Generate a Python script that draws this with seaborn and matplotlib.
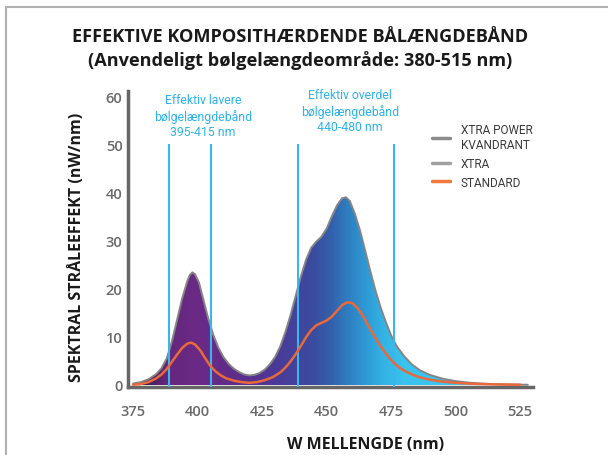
import numpy as np
import pandas as pd
import matplotlib.pyplot as plt
import seaborn as sns
from matplotlib.colors import LinearSegmentedColormap
from matplotlib.lines import Line2D
from matplotlib.patches import Polygon

# XTRA POWER KVANDRANT (filled area)
power_nm = [375, 378, 381, 384, 386, 388, 390, 392, 394, 396, 397, 398, 399, 400.5, 402,
            404, 406, 408, 410, 412, 414, 416, 418, 420, 422, 424, 426, 428, 430,
            432, 434, 436, 438, 440, 442, 444, 446, 448, 450, 452, 454, 456, 457.5,
            459, 461, 463, 465, 467, 469, 471, 473, 475, 477, 480, 483, 486, 490,
            495, 500, 505, 510, 515, 520, 528]
power_val = [0.3, 0.6, 1.2, 2.3, 3.5, 5.5, 9, 13.5, 18, 21.6, 22.9, 23.4, 23.0, 21.3, 18.2,
             14, 10.5, 7.8, 5.8, 4.4, 3.4, 2.7, 2.2, 2.0, 2.1, 2.5, 3.2, 4.3, 5.8,
             8, 11, 14.5, 18.5, 22.5, 26, 28.5, 29.8, 30.8, 32.5, 35, 37.3, 38.8, 39,
             38.2, 35.5, 32, 27.8, 23.5, 19.5, 16, 13, 10.3, 8.2, 6, 4.3, 3.1, 2.1,
             1.3, 0.8, 0.5, 0.3, 0.18, 0.1, 0.05]

# STANDARD
std_nm = [375, 378, 381, 384, 386, 388, 390, 392, 394, 396, 397.5, 399, 401, 403,
          405, 407, 409, 411, 414, 417, 420, 423, 426, 429, 432, 434, 436, 438,
          440, 442, 444, 446, 448, 450, 452, 454, 456, 458, 460, 462, 464, 466,
          468, 470, 472, 474, 476, 478, 480, 483, 486, 490, 495, 500, 507, 515, 525]
std_val = [0.05, 0.2, 0.6, 1.4, 2.2, 3.3, 4.8, 6.3, 7.7, 8.6, 8.8, 8.4, 7.2, 5.5,
           3.9, 2.8, 2.0, 1.4, 0.9, 0.6, 0.45, 0.6, 1.0, 1.6, 2.6, 3.6, 4.9, 6.4,
           8.1, 9.9, 11.4, 12.4, 12.9, 13.4, 14.2, 15.4, 16.6, 17.2, 17.0, 16.0, 14.4, 12.5,
           10.6, 8.8, 7.2, 5.8, 4.6, 3.7, 3.0, 2.2, 1.6, 1.1, 0.7, 0.45, 0.25, 0.12, 0.05]

band_edges = [389, 405, 439, 476]
x_ticks = [375, 400, 425, 450, 475, 500, 525]
y_ticks = [0, 10, 20, 30, 40, 50, 60]

sns.set_theme(style='white')
plt.rcParams['font.family'] = ['Open Sans', 'DejaVu Sans']

fig = plt.figure(figsize=(6.08, 4.56), dpi=100)
ax = fig.add_axes([128 / 608, 1 - 388.4 / 456, 405 / 608, 296 / 456])
ax.set_xlim(373, 530)
ax.set_ylim(-0.5, 61)

# gradient fill clipped to the curve
grad_stops = [(373, '#150a1c'), (381, '#45205a'), (388, '#65267e'), (400, '#6a2a86'),
              (415, '#5e2d8a'), (425, '#533394'), (435, '#45409b'), (445, '#3a4c9f'),
              (452, '#3361ac'), (458, '#2f7dbf'), (465, '#2e99d4'), (472, '#33b3e5'),
              (480, '#39c3ee'), (530, '#3ec8f0')]
lo, hi = 373, 530
cmap = LinearSegmentedColormap.from_list(
    'band', [((p - lo) / (hi - lo), c) for p, c in grad_stops])
grad = np.linspace(0, 1, 512).reshape(1, -1)
img = ax.imshow(grad, extent=[lo, hi, 0, 45], aspect='auto', cmap=cmap, zorder=1)
poly_pts = [(power_nm[0], 0)] + list(zip(power_nm, power_val)) + [(power_nm[-1], 0)]
clip = Polygon(poly_pts, closed=True, facecolor='none', edgecolor='none')
ax.add_patch(clip)
img.set_clip_path(clip)

df_power = pd.DataFrame({'nm': power_nm, 'val': power_val})
df_std = pd.DataFrame({'nm': std_nm, 'val': std_val})
sns.lineplot(data=df_power, x='nm', y='val', color='#858585', lw=1.4, ax=ax, zorder=2)

ax.vlines(band_edges, -0.5, 50, color='#3cb6ea', lw=1.5, zorder=3)

sns.lineplot(data=df_std, x='nm', y='val', color='#e8693a', lw=1.8, ax=ax, zorder=4)

ax.set_xticks(x_ticks)
ax.set_yticks(y_ticks)
ax.tick_params(axis='x', length=0, pad=12, labelsize=10.5, labelcolor='#6a6a6a')
ax.tick_params(axis='y', length=0, pad=4, labelsize=10.5, labelcolor='#6a6a6a')
for t in ax.get_xticklabels() + ax.get_yticklabels():
    t.set_fontweight('semibold')

for s in ['top', 'right']:
    ax.spines[s].set_visible(False)
for s in ['left', 'bottom']:
    ax.spines[s].set_color('#666666')
    ax.spines[s].set_linewidth(2.5)

ax.set_xlabel('W MELLENGDE (nm)', fontsize=11.5, fontweight='bold', color='#1a1a1a')
ax.xaxis.set_label_coords((366 - 128) / 405, -49 / 296)
ax.set_ylabel('SPEKTRAL STRÅLEEFFEKT (nW/nm)', fontsize=11.5, fontweight='bold',
              color='#1a1a1a')
ax.yaxis.set_label_coords(-(128 - 85) / 405, (388.4 - 247) / 296)

narrow = ['Roboto', 'DejaVu Sans']
ax.text(402, 56, 'Effektiv lavere\nbølgelængdebånd\n395-415 nm', ha='center', va='center',
        fontsize=8.8, color='#2eb4ea', family=narrow, linespacing=1.25)
ax.text(459, 57, 'Effektiv overdel\nbølgelængdebånd\n440-480 nm', ha='center', va='center',
        fontsize=8.8, color='#2eb4ea', family=narrow, linespacing=1.25)

handles = [Line2D([], [], color='#8c8c8c', lw=2.5),
           Line2D([], [], color='#a0a0a0', lw=2.5),
           Line2D([], [], color='#f07a3c', lw=2.5)]
leg = ax.legend(handles, ['XTRA POWER\nKVANDRANT', 'XTRA', 'STANDARD'],
                loc='upper left', bbox_to_anchor=(0.725, 0.93), frameon=False,
                handlelength=1.5, handletextpad=0.9, labelspacing=0.5,
                prop={'family': narrow, 'size': 8.5})
for t in leg.get_texts():
    t.set_color('#3a3a3a')

fig.text(0.493, 0.919, 'EFFEKTIVE KOMPOSITHÆRDENDE BÅLÆNGDEBÅND', ha='center', va='center',
         fontsize=13.1, fontweight='bold', color='#1a1a1a')
fig.text(0.493, 0.868, '(Anvendeligt bølgelængdeområde: 380-515 nm)', ha='center',
         va='center', fontsize=13.1, fontweight='bold', color='#1a1a1a')

# card border top / left
fig.add_artist(Line2D([6 / 608, 1], [1 - 8 / 456] * 2, color='#b0b0b0', lw=1.5))
fig.add_artist(Line2D([6 / 608] * 2, [0, 1 - 8 / 456], color='#b0b0b0', lw=1.5))

fig.savefig('out.png', dpi=100)
